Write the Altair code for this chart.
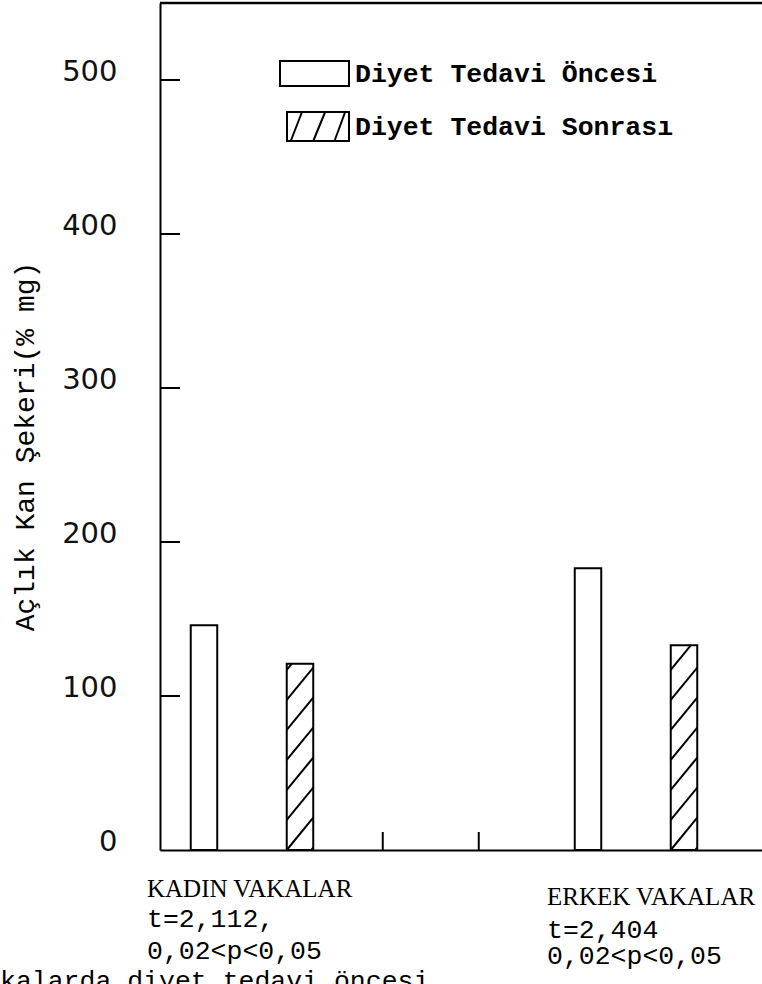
import altair as alt
import pandas as pd

# ---- data ----
series_names = ["Diyet Tedavi Öncesi", "Diyet Tedavi Sonrası"]
bar_series = [series_names[0], series_names[1], series_names[0], series_names[1]]
bar_slots = [1, 2, 5, 6]
bar_values = [146, 121, 183, 133]
gap_tick_slots = [3, 4]
y_tick_values = [100, 200, 300, 400, 500]
y_label_values = [0, 100, 200, 300, 400, 500]
group_labels = ["KADIN VAKALAR", "ERKEK VAKALAR"]
t_labels = ["t=2,112,", "t=2,404"]
p_labels = ["0,02<p<0,05", "0,02<p<0,05"]
caption_fragment = "kalarda diyet tedavi öncesi"
y_title = "Açlık Kan Şekeri(% mg)"

# ---- layout / style ----
W, H = 602, 847
HALF = 0.138
MONO = "Liberation Mono"
SERIF = "Liberation Serif"

bars = pd.DataFrame({"series": bar_series, "slot": bar_slots, "value": bar_values})
bars["x1"] = bars["slot"] - HALF
bars["x2"] = bars["slot"] + HALF

# hatch pattern segments for the "after" bars
P, R = 19.5, 21.0
rows = []
for _, b in bars[bars["series"] == series_names[1]].iterrows():
    k = -2
    while k * P <= b["value"]:
        y0 = k * P
        s0 = max(0.0, -y0 / R)
        s1 = min(1.0, (b["value"] - y0) / R)
        if s1 > s0:
            rows.append(dict(
                hx1=b["x1"] + s0 * (b["x2"] - b["x1"]),
                hx2=b["x1"] + s1 * (b["x2"] - b["x1"]),
                hy1=y0 + R * s0,
                hy2=y0 + R * s1,
            ))
        k += 1
hatch = pd.DataFrame(rows)

xs = alt.Scale(domain=[0.5417, 6.8125], nice=False, zero=False)
ys = alt.Scale(domain=[0, 550], nice=False)

x_axis = alt.Axis(labels=False, ticks=False, grid=False, title="",
                  domainColor="black", domainWidth=2)
y_axis = alt.Axis(values=y_label_values, grid=False, ticks=False, tickSize=0,
                  labelPadding=43, labelFont="DejaVu Sans", labelFontSize=29,
                  labelColor="#111", labelOffset=-9, labelOverlap=False,
                  domainColor="black", domainWidth=2,
                  title=y_title, titleFont=MONO, titleFontSize=28,
                  titleFontWeight="normal", titleColor="black", titleAngle=270,
                  titleX=-135, titleY=443, titleAlign="center", titleBaseline="middle")

bar_layer = alt.Chart(bars).mark_bar(fill="white", stroke="black", strokeWidth=2).encode(
    x=alt.X("x1:Q", scale=xs, axis=x_axis),
    x2="x2:Q",
    y=alt.Y("value:Q", scale=ys, axis=y_axis),
    y2=alt.datum(0),
)

hatch_layer = alt.Chart(hatch).mark_rule(color="black", strokeWidth=2).encode(
    x=alt.X("hx1:Q", scale=xs), x2="hx2:Q",
    y=alt.Y("hy1:Q", scale=ys), y2="hy2:Q",
)

ytick_layer = alt.Chart(pd.DataFrame({"v": y_tick_values})).mark_rule(
    color="black", strokeWidth=2).encode(
    y=alt.Y("v:Q", scale=ys), x=alt.value(0), x2=alt.value(20))

gap = pd.DataFrame({"slot": gap_tick_slots})
gap["gx"] = gap["slot"] - HALF
gap_layer = alt.Chart(gap).mark_rule(color="black", strokeWidth=2).encode(
    x=alt.X("gx:Q", scale=xs), y=alt.value(H), y2=alt.value(H - 18))

top_layer = alt.Chart(pd.DataFrame({"v": [550]})).mark_rule(
    color="black", strokeWidth=2.5).encode(
    y=alt.Y("v:Q", scale=ys), x=alt.value(0), x2=alt.value(W))

path_before = "M-2.76,-1H2.76V1H-2.76Z"
path_after = ("M-2.2,-1.16H2.76V1.16H-2.2Z M-1.9,1.16L-1.0,-1.16 "
              "M-0.1,1.16L0.85,-1.16 M1.6,1.16L2.45,-1.16")

legend_layer = alt.Chart(bars).mark_point(opacity=0).encode(
    x=alt.X("slot:Q", scale=xs),
    y=alt.Y("value:Q", scale=ys),
    shape=alt.Shape("series:N",
                    scale=alt.Scale(domain=series_names, range=[path_before, path_after]),
                    legend=alt.Legend(title=None, orient="none", legendX=141, legendY=57,
                                      symbolSize=625, symbolStrokeWidth=2,
                                      symbolStrokeColor="black", symbolFillColor="white",
                                      symbolOpacity=1, labelFont=MONO, labelFontSize=26.5,
                                      labelFontWeight="bold", labelColor="black",
                                      labelOffset=27, labelLimit=600, rowPadding=18)),
)


def txt(s, x, y, font, size, weight="normal"):
    return alt.Chart(pd.DataFrame({"t": [s]})).mark_text(
        align="left", baseline="alphabetic", font=font, fontSize=size,
        fontWeight=weight, color="black").encode(
        text="t:N", x=alt.value(x), y=alt.value(y))


texts = [
    txt(group_labels[0], -13, 894, SERIF, 25),
    txt(t_labels[0], -13, 924, MONO, 26.5),
    txt(p_labels[0], -13, 956, MONO, 26.5),
    txt(group_labels[1], 387, 902, SERIF, 25),
    txt(t_labels[1], 387, 935, MONO, 26.5),
    txt(p_labels[1], 387, 961, MONO, 26.5),
    txt(caption_fragment, -160, 986, MONO, 26.5),
]

chart = alt.layer(bar_layer, hatch_layer, ytick_layer, gap_layer, top_layer,
                  legend_layer, *texts).properties(
    width=W, height=H,
    padding={"left": 160, "top": 3, "right": 0, "bottom": 134},
    autosize=alt.AutoSizeParams(type="none"),
).configure_view(strokeWidth=0)

chart.save("out.html", embed_options={"renderer": "svg", "actions": False})
